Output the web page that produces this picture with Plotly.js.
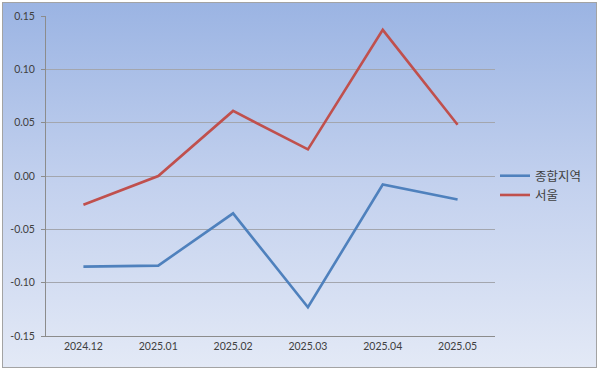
<!DOCTYPE html>
<html>
<head>
<meta charset="utf-8">
<script src="https://cdn.plot.ly/plotly-3.0.1.min.js"></script>
<style>
html,body{margin:0;padding:0;background:#ffffff;}
#wrap{position:relative;width:599px;height:371px;overflow:hidden;}
#bg{position:absolute;left:2px;top:2px;width:593px;height:364px;border:1px solid #a3a3a3;
background:linear-gradient(to bottom,#9bb4e3 0%,#c3d1ee 50%,#e3e9f6 100%);}
#chart{position:absolute;left:0;top:0;width:599px;height:371px;}
</style>
</head>
<body>
<div id="wrap"><div id="bg"></div><div id="chart"></div></div>
<script>
const categories = ["2024.12","2025.01","2025.02","2025.03","2025.04","2025.05"];
const seriesNames = ["종합지역","서울"];
const totalRegion = [-0.085,-0.084,-0.035,-0.123,-0.008,-0.022];
const seoul = [-0.027,0.000,0.061,0.025,0.137,0.048];
const yTickValues = [-0.15,-0.10,-0.05,0.00,0.05,0.10,0.15];
const yTickLabels = ["-0.15","-0.10","-0.05","0.00","0.05","0.10","0.15"];

const traces = [
  {x:categories,y:totalRegion,name:seriesNames[0],type:"scatter",mode:"lines",
   line:{color:"#4f81bd",width:2.6}},
  {x:categories,y:seoul,name:seriesNames[1],type:"scatter",mode:"lines",
   line:{color:"#c0504d",width:2.6}}
];
const tickFont = {family:"Lato, 'Noto Sans', sans-serif",size:10.5,color:"#404040"};
const layout = {
  width:599,height:371,
  margin:{l:46,r:104,t:16,b:35,pad:0},
  paper_bgcolor:"rgba(0,0,0,0)",plot_bgcolor:"rgba(0,0,0,0)",
  showlegend:true,
  legend:{x:1.0,y:0.47,xanchor:"left",yanchor:"middle",bgcolor:"rgba(0,0,0,0)",
    font:{family:"'Noto Sans CJK KR', sans-serif",size:12.5,color:"#404040"},
    itemwidth:30,tracegroupgap:0},
  xaxis:{type:"category",range:[-0.5,5.5],showgrid:false,showline:true,linecolor:"#8c8c8c",linewidth:1,
    ticks:"",tickfont:tickFont,zeroline:false,fixedrange:true},
  yaxis:{range:[-0.15,0.15],tickvals:yTickValues,ticktext:yTickLabels,showgrid:true,gridcolor:"#a3a6ae",gridwidth:1,
    showline:true,linecolor:"#8c8c8c",linewidth:1,ticks:"outside",ticklen:4,tickcolor:"#8c8c8c",
    tickfont:tickFont,zeroline:false,fixedrange:true,ticklabelstandoff:4}
};
Plotly.newPlot("chart",traces,layout,{displayModeBar:false,staticPlot:true});
</script>
</body>
</html>
